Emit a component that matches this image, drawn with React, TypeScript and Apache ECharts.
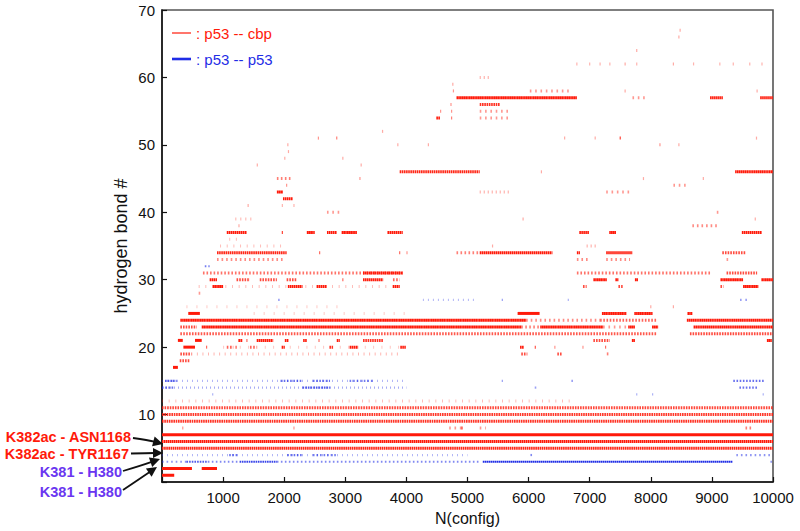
import React, { useEffect, useRef } from "react";
import * as echarts from "echarts";

// [bond #, start config, end config, occupancy (0..1)]
type Seg = [number, number, number, number];

const xTitle = "N(config)";
const yTitle = "hydrogen bond #";
const legendNames = [": p53 -- cbp", ": p53 -- p53"];
const annotationLabels = ["K382ac - ASN1168", "K382ac - TYR1167", "K381 - H380", "K381 - H380"];

const redBaseRows: Seg[] = [
  [1, 0, 200, 1],
  [2, 0, 490, 1],
  [2, 650, 900, 1],
  [5, 0, 10000, 0.75],
  [6, 0, 10000, 0.8],
  [7, 0, 10000, 1],
  [8, 330, 350, 0.4],
  [8, 2150, 2170, 0.4],
  [8, 4700, 4930, 0.3],
  [8, 4900, 4930, 0.9],
  [8, 5200, 5300, 0.3],
  [8, 9550, 9650, 0.4],
  [9, 0, 10000, 0.7],
  [10, 0, 10000, 0.68],
  [11, 0, 10000, 0.62],
  [12, 0, 6700, 0.15],
];

const redMidRows: Seg[] = [
  [17, 180, 260, 1],
  [18, 290, 450, 0.6],
  [19, 300, 480, 0.6],
  [19, 480, 3900, 0.18],
  [19, 5880, 5980, 0.6],
  [19, 6470, 6550, 0.6],
  [19, 7280, 7330, 0.4],
  [20, 350, 540, 1],
  [20, 720, 760, 0.6],
  [20, 1000, 4000, 0.12],
  [20, 1060, 1170, 0.5],
  [20, 1200, 1260, 0.4],
  [20, 1440, 1550, 0.5],
  [20, 1960, 2010, 0.8],
  [20, 2740, 2800, 0.7],
  [20, 3070, 3210, 0.8],
  [20, 3900, 3990, 0.8],
  [20, 5860, 5920, 0.8],
  [20, 6100, 6130, 0.7],
  [20, 6420, 6440, 0.4],
  [20, 6880, 6900, 0.4],
  [20, 7250, 7290, 0.6],
  [21, 260, 340, 1],
  [21, 540, 650, 1],
  [21, 1250, 1320, 0.8],
  [21, 1380, 1420, 0.6],
  [21, 1550, 1820, 0.8],
  [21, 2010, 2070, 0.8],
  [21, 2310, 2370, 0.8],
  [21, 2560, 2590, 0.6],
  [21, 2860, 2910, 0.8],
  [21, 3290, 3620, 0.7],
  [21, 7060, 7330, 0.6],
  [21, 7690, 7740, 0.9],
  [21, 9900, 9980, 0.9],
  [22, 300, 8100, 0.55],
  [22, 8640, 10000, 0.6],
  [23, 300, 570, 0.6],
  [23, 650, 5880, 0.9],
  [23, 5880, 6190, 0.4],
  [23, 6190, 7220, 0.9],
  [23, 7220, 7630, 0.3],
  [23, 7630, 7740, 0.9],
  [23, 8020, 8120, 0.9],
  [23, 8700, 10000, 0.85],
  [24, 300, 5960, 0.9],
  [24, 5960, 7170, 0.35],
  [24, 7170, 8100, 0.5],
  [24, 8590, 10000, 0.85],
  [25, 430, 620, 1],
  [25, 1500, 4000, 0.1],
  [25, 5820, 6180, 1],
  [25, 7200, 7600, 0.9],
  [25, 7730, 8030, 0.9],
  [25, 8600, 8680, 0.9],
  [26, 400, 3000, 0.1],
  [26, 7990, 8010, 0.3],
  [26, 8360, 8380, 0.3],
  [28, 600, 650, 0.3],
  [29, 830, 1000, 0.9],
  [29, 600, 3900, 0.15],
  [29, 2060, 2300, 0.8],
  [29, 2530, 2700, 0.8],
  [29, 3780, 3890, 0.8],
  [29, 6890, 6950, 0.6],
  [29, 7470, 7550, 0.6],
  [29, 9140, 9190, 0.6],
  [29, 9510, 9760, 0.9],
  [30, 780, 900, 0.8],
  [30, 1220, 1440, 0.6],
  [30, 1600, 1880, 0.6],
  [30, 2040, 2200, 0.6],
  [30, 2950, 2980, 0.6],
  [30, 3290, 3620, 0.8],
  [30, 3780, 3890, 0.5],
  [30, 7060, 7280, 0.9],
  [30, 7420, 7470, 0.9],
  [30, 7740, 7790, 0.9],
  [30, 9140, 9510, 0.9],
  [30, 9810, 10000, 0.9],
  [31, 670, 3940, 0.45],
  [31, 3290, 3940, 0.8],
  [31, 6790, 8970, 0.45],
  [31, 9240, 9740, 0.6],
];

const redUpperRows: Seg[] = [
  [33, 900, 1980, 0.35],
  [33, 6790, 7010, 0.35],
  [33, 7270, 7660, 0.35],
  [33, 9240, 9300, 0.3],
  [34, 900, 2040, 0.75],
  [34, 2570, 2610, 0.6],
  [34, 3880, 3920, 0.6],
  [34, 4000, 4040, 0.4],
  [34, 4820, 5200, 0.4],
  [34, 5200, 6390, 0.8],
  [34, 6790, 6840, 0.8],
  [34, 7270, 7700, 0.8],
  [34, 9170, 9560, 0.6],
  [35, 950, 2000, 0.15],
  [35, 5400, 5440, 0.3],
  [35, 6950, 7100, 0.25],
  [36, 1100, 1300, 0.15],
  [37, 1060, 1390, 0.8],
  [37, 1960, 1990, 0.8],
  [37, 2370, 2500, 0.9],
  [37, 2700, 2860, 0.8],
  [37, 2940, 3190, 0.9],
  [37, 3690, 3940, 0.8],
  [37, 6830, 6990, 0.8],
  [37, 7320, 7430, 0.9],
  [37, 9490, 9820, 0.8],
  [38, 1250, 1270, 0.3],
  [38, 8680, 9120, 0.35],
  [39, 1200, 1500, 0.2],
  [39, 5900, 5930, 0.3],
  [39, 9700, 9720, 0.3],
  [40, 2700, 2960, 0.3],
  [40, 9080, 9130, 0.3],
  [41, 1400, 1420, 0.3],
  [41, 1960, 2000, 0.25],
  [41, 2150, 2180, 0.25],
  [42, 1980, 2140, 0.8],
  [43, 1880, 1980, 0.9],
  [43, 5200, 5690, 0.25],
  [43, 7270, 7660, 0.3],
  [44, 2030, 2050, 0.4],
  [44, 8370, 8590, 0.3],
  [45, 1880, 2140, 0.4],
  [45, 3230, 3250, 0.4],
  [45, 7870, 7890, 0.3],
  [45, 8850, 8870, 0.3],
  [46, 3890, 5200, 0.75],
  [46, 6200, 6220, 0.3],
  [46, 9380, 10000, 0.85],
  [47, 1550, 1570, 0.3],
  [47, 3250, 3270, 0.3],
  [48, 2000, 2020, 0.3],
  [48, 2950, 2970, 0.3],
  [49, 2060, 2080, 0.3],
  [50, 2050, 2070, 0.3],
  [50, 3850, 3870, 0.3],
  [50, 4350, 4370, 0.3],
  [50, 8140, 8160, 0.4],
  [50, 8450, 8470, 0.3],
  [51, 2550, 2570, 0.4],
  [51, 2850, 2870, 0.5],
  [51, 6580, 6600, 0.3],
  [51, 7080, 7100, 0.3],
  [51, 7490, 7510, 0.8],
  [51, 9720, 9740, 0.3],
  [52, 3600, 3620, 0.3],
  [54, 4490, 4550, 0.8],
  [54, 4730, 4750, 0.5],
  [54, 5200, 5690, 0.3],
  [55, 4550, 4570, 0.4],
  [55, 4730, 4750, 0.4],
  [55, 5200, 5700, 0.3],
  [56, 4720, 4760, 0.4],
  [56, 5200, 5530, 0.7],
  [57, 4820, 6790, 0.9],
  [57, 7700, 7930, 0.3],
  [57, 8970, 9180, 0.8],
  [57, 9790, 10000, 0.8],
  [58, 4760, 4780, 0.4],
  [58, 6020, 6680, 0.3],
  [58, 7570, 7590, 0.3],
  [58, 9730, 9750, 0.3],
  [59, 4750, 4770, 0.3],
  [60, 5200, 5370, 0.25],
  [62, 6780, 6800, 0.25],
  [62, 6990, 7010, 0.25],
  [62, 7160, 7180, 0.25],
  [62, 7320, 7340, 0.25],
  [62, 7570, 7590, 0.3],
  [62, 7760, 7780, 0.25],
  [62, 8360, 8380, 0.3],
  [62, 8690, 8710, 0.25],
  [62, 9120, 9140, 0.25],
  [62, 9340, 9360, 0.25],
  [62, 9610, 9630, 0.25],
  [62, 9810, 9830, 0.25],
  [64, 7760, 7780, 0.3],
  [66, 8450, 8470, 0.3],
  [67, 8470, 8490, 0.3],
];

const blueRows: Seg[] = [
  [3, 0, 400, 0.35],
  [3, 400, 750, 0.6],
  [3, 750, 1270, 0.4],
  [3, 1270, 1880, 0.7],
  [3, 1880, 5200, 0.4],
  [3, 5250, 9340, 0.8],
  [3, 9960, 10000, 0.6],
  [4, 0, 5000, 0.2],
  [4, 1100, 1230, 0.5],
  [4, 2050, 2300, 0.5],
  [4, 2470, 2860, 0.45],
  [4, 6030, 6090, 0.4],
  [4, 9400, 10000, 0.35],
  [13, 820, 860, 0.3],
  [13, 7760, 7780, 0.3],
  [13, 8020, 8040, 0.3],
  [13, 9830, 9850, 0.3],
  [14, 0, 4000, 0.25],
  [14, 0, 200, 0.5],
  [14, 2300, 2750, 0.6],
  [14, 6100, 6150, 0.3],
  [14, 9450, 9750, 0.5],
  [15, 0, 4000, 0.2],
  [15, 50, 240, 0.6],
  [15, 1940, 2300, 0.5],
  [15, 2470, 2750, 0.5],
  [15, 3070, 3450, 0.45],
  [15, 5560, 5600, 0.4],
  [15, 6700, 6760, 0.3],
  [15, 9350, 9850, 0.5],
  [27, 1900, 1960, 0.3],
  [27, 4270, 5150, 0.2],
  [27, 5560, 5600, 0.4],
  [27, 6640, 6680, 0.3],
  [27, 9460, 9580, 0.3],
  [32, 700, 780, 0.45],
];

const RED = "#ff1a0a";
const BLUE = "#1f2de6";
const FONT = '"Liberation Sans", Arial, Helvetica, sans-serif';

const toItems = (rows: Seg[]) => rows.map(([b, s, e, o]) => [s, e, b, o]);

// Each segment is drawn as a dashed stroke whose ink fraction follows its occupancy,
// giving the dotted texture of a per-frame occupancy trace.
const makeRender = (color: string, h: number) => (_params: any, api: any) => {
  const s = api.coord([api.value(0), api.value(2)]);
  const e = api.coord([api.value(1), api.value(2)]);
  const o = api.value(3) as number;
  const w = e[0] - s[0];
  if (w < 2.5 || o >= 0.95) {
    const small = w < 2.5;
    return {
      type: "rect",
      shape: { x: s[0], y: s[1] - h / 2, width: small ? 1.2 : w, height: h },
      style: { fill: color, opacity: small ? Math.min(1, 0.1 + o * 0.9) : 1 },
    };
  }
  const dash = o < 0.3 ? 1 : 1.6;
  const gap = Math.min(12, (dash * (1 - o)) / o);
  return {
    type: "line",
    shape: { x1: s[0], y1: s[1], x2: e[0], y2: e[1] },
    style: {
      stroke: color,
      lineWidth: h,
      lineDash: [dash, gap],
      opacity: Math.min(1, 0.12 + o * 1.1),
    },
  };
};

function arrow(x0: number, y0: number, cx: number, cy: number, tx: number, ty: number) {
  const dx = tx - cx;
  const dy = ty - cy;
  const len = Math.sqrt(dx * dx + dy * dy);
  const ux = dx / len;
  const uy = dy / len;
  const headL = 10;
  const headW = 5;
  const bx = tx - ux * headL;
  const by = ty - uy * headL;
  return [
    {
      type: "bezierCurve",
      shape: { x1: x0, y1: y0, cpx1: cx, cpy1: cy, x2: bx + ux * 2, y2: by + uy * 2 },
      style: { stroke: "#111", lineWidth: 1.8, fill: "none" },
      silent: true,
    },
    {
      type: "polygon",
      shape: {
        points: [
          [tx, ty],
          [bx - uy * headW, by + ux * headW],
          [bx + uy * headW, by - ux * headW],
        ],
      },
      style: { fill: "#111" },
      silent: true,
    },
  ];
}

export default function App() {
  const ref = useRef<HTMLDivElement>(null);
  useEffect(() => {
    const chart = echarts.init(ref.current!, null, { renderer: "svg" });
    const annColors = [RED, RED, "#6a36f0", "#6a36f0"];
    const annY = [437, 454, 472, 492];
    const annRight = [131, 129, 122, 122];
    const graphics: any[] = [
      {
        type: "line",
        shape: { x1: 172, y1: 33, x2: 191, y2: 33 },
        style: { stroke: RED, lineWidth: 1.2 },
      },
      {
        type: "text",
        x: 196,
        y: 33,
        style: { text: legendNames[0], fill: RED, fontSize: 15, fontFamily: FONT, align: "left", verticalAlign: "middle" },
      },
      {
        type: "line",
        shape: { x1: 172, y1: 59, x2: 191, y2: 59 },
        style: { stroke: BLUE, lineWidth: 2.6 },
      },
      {
        type: "text",
        x: 196,
        y: 59,
        style: { text: legendNames[1], fill: BLUE, fontSize: 15, fontFamily: FONT, align: "left", verticalAlign: "middle" },
      },
      {
        type: "text",
        x: 121,
        y: 246,
        rotation: Math.PI / 2,
        style: { text: yTitle, fill: "#111", fontSize: 18, fontFamily: FONT, align: "center", verticalAlign: "middle" },
      },
    ];
    annotationLabels.forEach((t, i) => {
      graphics.push({
        type: "text",
        x: annRight[i],
        y: annY[i],
        style: {
          text: t,
          fill: annColors[i],
          fontSize: 14.5,
          fontWeight: "bold",
          fontFamily: FONT,
          align: "right",
          verticalAlign: "middle",
        },
      });
    });
    graphics.push(...arrow(133, 438, 148, 440, 163, 444));
    graphics.push(...arrow(131, 453.5, 147, 453, 163, 453));
    graphics.push(...arrow(123, 471, 140, 466, 160, 459));
    graphics.push(...arrow(123, 490, 138, 480, 157, 467));

    chart.setOption({
      animation: false,
      backgroundColor: "#fff",
      grid: {
        left: 162,
        right: 27,
        top: 10,
        bottom: 49,
        show: true,
        borderColor: "#555",
        borderWidth: 1.6,
        backgroundColor: "transparent",
      },
      xAxis: {
        type: "value",
        min: 0,
        max: 10000,
        interval: 1000,
        name: xTitle,
        nameLocation: "middle",
        nameGap: 28,
        nameTextStyle: { fontSize: 16, fontFamily: FONT, color: "#111" },
        axisLine: { show: true, lineStyle: { color: "#111", width: 1.5 } },
        axisTick: { show: true, inside: true, length: 5, lineStyle: { color: "#111", width: 1.2 } },
        axisLabel: {
          formatter: (v: number) => (v === 0 ? "" : String(v)),
          color: "#111",
          fontSize: 15,
          fontFamily: FONT,
          margin: 8,
        },
        splitLine: { show: false },
      },
      yAxis: {
        type: "value",
        min: 0,
        max: 70,
        interval: 10,
        axisLine: { show: true, lineStyle: { color: "#111", width: 1.5 } },
        axisTick: { show: true, inside: true, length: 5, lineStyle: { color: "#111", width: 1.2 } },
        axisLabel: {
          formatter: (v: number) => (v === 0 ? "" : String(v)),
          color: "#111",
          fontSize: 15,
          fontFamily: FONT,
          margin: 7,
        },
        splitLine: { show: false },
      },
      graphic: graphics,
      series: [
        {
          name: "p53 -- cbp",
          type: "custom",
          coordinateSystem: "cartesian2d",
          encode: { x: [0, 1], y: 2 },
          renderItem: makeRender(RED, 3),
          data: toItems([...redBaseRows, ...redMidRows, ...redUpperRows]),
          silent: true,
          clip: true,
        },
        {
          name: "p53 -- p53",
          type: "custom",
          coordinateSystem: "cartesian2d",
          encode: { x: [0, 1], y: 2 },
          renderItem: makeRender(BLUE, 2.2),
          data: toItems(blueRows),
          silent: true,
          clip: true,
        },
      ],
    });
    return () => chart.dispose();
  }, []);
  return <div ref={ref} style={{ position: "fixed", left: 0, top: 0, width: 800, height: 531 }} />;
}
